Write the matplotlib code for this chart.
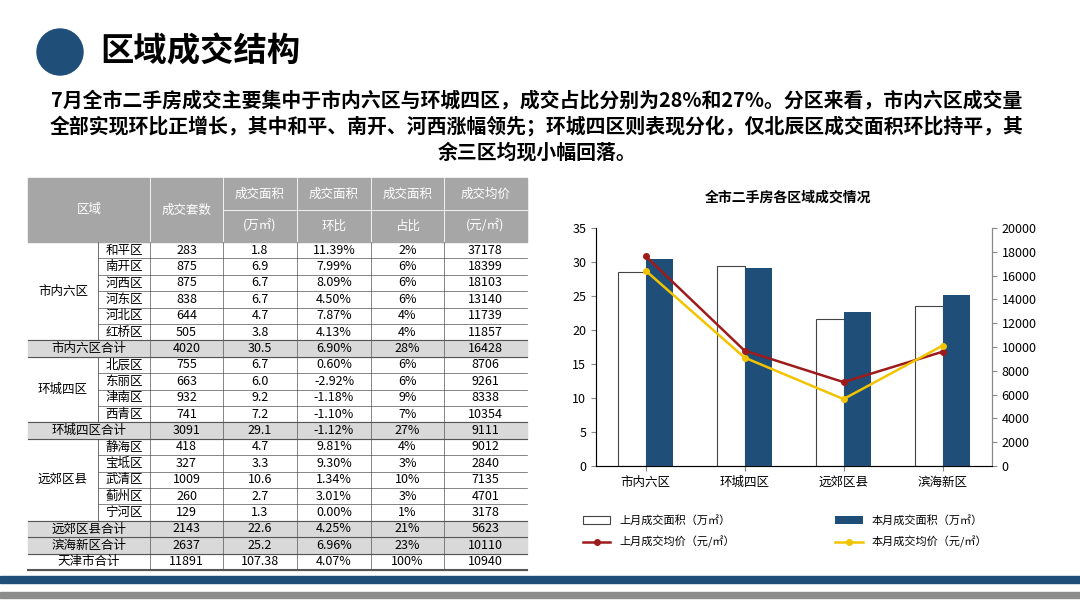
import matplotlib.pyplot as plt
from matplotlib.patches import Rectangle, Circle
import numpy as np

plt.rcParams['font.family'] = ['Noto Sans CJK SC', 'DejaVu Sans']

# chart data
regions = ['市内六区', '环城四区', '远郊区县', '滨海新区']
area_last = [28.6, 29.4, 21.6, 23.6]
area_this = [30.5, 29.1, 22.6, 25.2]
price_last = [17650, 9700, 7050, 9600]
price_this = [16428, 9111, 5623, 10110]

# table data
groups = [('市内六区', 6), ('', 1), ('环城四区', 4), ('', 1), ('远郊区县', 5), ('', 1), ('', 1), ('', 1)]
row_names = ['和平区', '南开区', '河西区', '河东区', '河北区', '红桥区', '市内六区合计',
             '北辰区', '东丽区', '津南区', '西青区', '环城四区合计',
             '静海区', '宝坻区', '武清区', '蓟州区', '宁河区', '远郊区县合计',
             '滨海新区合计', '天津市合计']
sets = [283, 875, 875, 838, 644, 505, 4020, 755, 663, 932, 741, 3091,
        418, 327, 1009, 260, 129, 2143, 2637, 11891]
areas = ['1.8', '6.9', '6.7', '6.7', '4.7', '3.8', '30.5', '6.7', '6.0', '9.2', '7.2', '29.1',
         '4.7', '3.3', '10.6', '2.7', '1.3', '22.6', '25.2', '107.38']
mom = ['11.39%', '7.99%', '8.09%', '4.50%', '7.87%', '4.13%', '6.90%', '0.60%', '-2.92%',
       '-1.18%', '-1.10%', '-1.12%', '9.81%', '9.30%', '1.34%', '3.01%', '0.00%', '4.25%',
       '6.96%', '4.07%']
share = ['2%', '6%', '6%', '6%', '4%', '4%', '28%', '6%', '6%', '9%', '7%', '27%',
         '4%', '3%', '10%', '3%', '1%', '21%', '23%', '100%']
prices = [37178, 18399, 18103, 13140, 11739, 11857, 16428, 8706, 9261, 8338, 10354, 9111,
          9012, 2840, 7135, 4701, 3178, 5623, 10110, 10940]
shaded = {6, 11, 17, 18}

W, H = 1080, 608
fig = plt.figure(figsize=(10.8, 6.08), dpi=100)
bg = fig.add_axes([0, 0, 1, 1])
bg.set_xlim(0, W)
bg.set_ylim(H, 0)
bg.axis('off')

# header
bg.add_patch(Circle((60, 52), 23, color='#1f4e79'))
bg.text(100, 52, '区域成交结构', fontsize=24, fontweight='bold', va='center')
txt = ('7月全市二手房成交主要集中于市内六区与环城四区，成交占比分别为28%和27%。分区来看，市内六区成交量\n'
       '全部实现环比正增长，其中和平、南开、河西涨幅领先；环城四区则表现分化，仅北辰区成交面积环比持平，其\n'
       '余三区均现小幅回落。')
bg.text(537, 126, txt, fontsize=14.3, fontweight='bold', ha='center', va='center',
        linespacing=1.3, multialignment='center')

# bottom stripes
bg.add_patch(Rectangle((0, 576), W, 7, color='#1f4e79'))
bg.add_patch(Rectangle((0, 592), W, 6, color='#8c8c8c'))

# table
cx = [28, 98, 150, 223, 297, 371, 444, 527]
top, hmid, hbot = 178, 210, 242
rh = (570 - hbot) / len(row_names)
bg.add_patch(Rectangle((cx[0], top), cx[-1] - cx[0], hbot - top, color='#a6a6a6'))
hdr_font = dict(fontsize=9, color='white', ha='center', va='center')
bg.text((cx[0] + cx[2]) / 2, (top + hbot) / 2, '区域', **hdr_font)
bg.text((cx[2] + cx[3]) / 2, (top + hbot) / 2, '成交套数', **hdr_font)
for i, (a, b) in enumerate([('成交面积', '(万㎡)'), ('成交面积', '环比'),
                            ('成交面积', '占比'), ('成交均价', '(元/㎡)')]):
    xm = (cx[3 + i] + cx[4 + i]) / 2
    bg.text(xm, (top + hmid) / 2, a, **hdr_font)
    bg.text(xm, (hmid + hbot) / 2, b, **hdr_font)
    bg.plot([cx[3 + i], cx[4 + i]], [hmid, hmid], color='white', lw=0.6)
for x in cx[2:-1]:
    bg.plot([x, x], [top, hbot], color='white', lw=0.6)

r = 0
for name, n in groups:
    y0 = hbot + r * rh
    if name:
        bg.text((cx[0] + cx[1]) / 2, y0 + n * rh / 2, name, fontsize=9, ha='center', va='center')
        bg.plot([cx[1], cx[1]], [y0, y0 + n * rh], color='#555555', lw=0.6)
    r += n
    bg.plot([cx[0], cx[-1]], [hbot + r * rh] * 2, color='#555555', lw=0.8)

for i, nm in enumerate(row_names):
    y0 = hbot + i * rh
    yc = y0 + rh / 2
    if i in shaded:
        bg.add_patch(Rectangle((cx[0], y0), cx[-1] - cx[0], rh, color='#d9d9d9', zorder=0))
    if nm.endswith('合计'):
        bg.text((cx[0] + cx[2]) / 2, yc, nm, fontsize=9, ha='center', va='center')
    else:
        bg.text((cx[1] + cx[2]) / 2, yc, nm, fontsize=9, ha='center', va='center')
        bg.plot([cx[1], cx[-1]], [y0 + rh] * 2, color='#555555', lw=0.5)
    vals = [sets[i], areas[i], mom[i], share[i], prices[i]]
    for j, v in enumerate(vals):
        bg.text((cx[2 + j] + cx[3 + j]) / 2, yc, str(v), fontsize=9, ha='center', va='center')
    for x in cx[2:-1]:
        bg.plot([x, x], [y0, y0 + rh], color='#555555', lw=0.5)
bg.plot([cx[0], cx[-1]], [570, 570], color='#555555', lw=1.5)

# chart
ax = fig.add_axes([596 / W, 1 - 466 / H, 396 / W, 238 / H])
x = np.arange(len(regions))
w = 0.28
b1 = ax.bar(x - w / 2, area_last, w, color='white', edgecolor='#444444', lw=0.8,
            label='上月成交面积（万㎡）')
b2 = ax.bar(x + w / 2, area_this, w, color='#1f4e79', label='本月成交面积（万㎡）')
ax.set_ylim(0, 35)
ax.set_yticks(range(0, 36, 5))
ax.set_xlim(-0.5, 3.5)
ax.set_xticks(x)
ax.set_xticklabels(regions, fontsize=9)
ax.tick_params(labelsize=9, color='#888888')
ax.spines['top'].set_visible(False)
for s in ['left', 'bottom', 'right']:
    ax.spines[s].set_color('#888888')
ax2 = ax.twinx()
l1, = ax2.plot(x, price_last, color='#9e1b1b', marker='o', ms=4, lw=1.8, label='上月成交均价（元/㎡）')
l2, = ax2.plot(x, price_this, color='#f2c400', marker='o', ms=4, lw=1.8, label='本月成交均价（元/㎡）')
ax2.set_ylim(0, 20000)
ax2.set_yticks(range(0, 20001, 2000))
ax2.tick_params(labelsize=9, color='#888888')
ax2.spines['top'].set_visible(False)
ax2.spines['right'].set_color('#888888')
fig.text(788 / W, 1 - 198 / H, '全市二手房各区域成交情况', fontsize=10, fontweight='bold',
         ha='center', va='center')
handles = [b1, l1, b2, l2]
fig.legend(handles, [h.get_label() for h in handles],
           loc='upper center', bbox_to_anchor=(785 / W, 1 - 505 / H), ncol=2, frameon=False,
           fontsize=8, columnspacing=9, handlelength=2.5, labelspacing=0.9)

fig.savefig('out.png', dpi=100)
